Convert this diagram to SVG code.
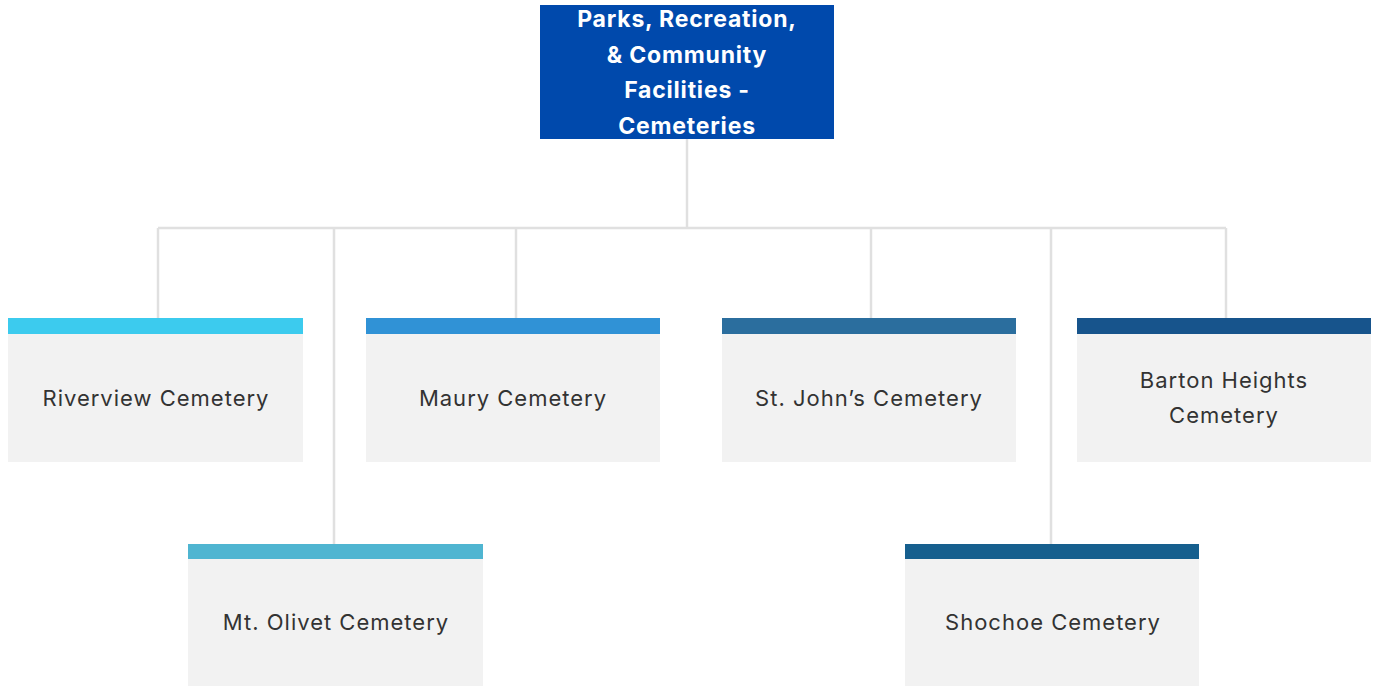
<svg xmlns="http://www.w3.org/2000/svg" width="1376" height="686" viewBox="0 0 1376 686">
  <style>
    .body { fill: #f2f2f2; }
    .label { font-family: Inter, "Liberation Sans", sans-serif; font-size: 22px; letter-spacing: 1px; fill: #333333; text-anchor: middle; dominant-baseline: central; }
    .head { font-family: Inter, "Liberation Sans", sans-serif; font-size: 23px; letter-spacing: 0.8px; font-weight: 700; fill: #ffffff; text-anchor: middle; dominant-baseline: central; }
    .link { stroke: #e0e0e0; stroke-width: 2.5; fill: none; }
  </style>
  <rect width="1376" height="686" fill="#ffffff"/>

  <g id="connectors">
    <path class="link" d="M687 139 V228"/>
    <path class="link" d="M158 228 H1226"/>
    <path class="link" d="M158 228 V318"/>
    <path class="link" d="M334 228 V544"/>
    <path class="link" d="M516 228 V318"/>
    <path class="link" d="M871 228 V318"/>
    <path class="link" d="M1051 228 V544"/>
    <path class="link" d="M1226 228 V318"/>
  </g>

  <g id="root">
    <rect x="540" y="5" width="294" height="134" fill="#0049ac"/>
    <text class="head" x="687" y="19">Parks, Recreation,</text>
    <text class="head" x="687" y="55">&amp; Community</text>
    <text class="head" x="687" y="90">Facilities -</text>
    <text class="head" x="687" y="126">Cemeteries</text>
  </g>

  <g id="riverview">
    <rect class="body" x="8" y="333" width="295" height="129"/>
    <rect x="8" y="318" width="295" height="16" fill="#3ccbee"/>
    <text class="label" x="156" y="398">Riverview Cemetery</text>
  </g>

  <g id="maury">
    <rect class="body" x="366" y="333" width="294" height="129"/>
    <rect x="366" y="318" width="294" height="16" fill="#3092d6"/>
    <text class="label" x="513" y="398">Maury Cemetery</text>
  </g>

  <g id="st-johns">
    <rect class="body" x="722" y="333" width="294" height="129"/>
    <rect x="722" y="318" width="294" height="16" fill="#2b6e9e"/>
    <text class="label" x="869" y="398">St. John’s Cemetery</text>
  </g>

  <g id="barton-heights">
    <rect class="body" x="1077" y="333" width="294" height="129"/>
    <rect x="1077" y="318" width="294" height="16" fill="#17548c"/>
    <text class="label" x="1224" y="380">Barton Heights</text>
    <text class="label" x="1224" y="415">Cemetery</text>
  </g>

  <g id="mt-olivet">
    <rect class="body" x="188" y="558" width="295" height="128"/>
    <rect x="188" y="544" width="295" height="15" fill="#4fb5d1"/>
    <text class="label" x="336" y="622">Mt. Olivet Cemetery</text>
  </g>

  <g id="shochoe">
    <rect class="body" x="905" y="558" width="294" height="128"/>
    <rect x="905" y="544" width="294" height="15" fill="#165f8e"/>
    <text class="label" x="1053" y="622">Shochoe Cemetery</text>
  </g>
</svg>
